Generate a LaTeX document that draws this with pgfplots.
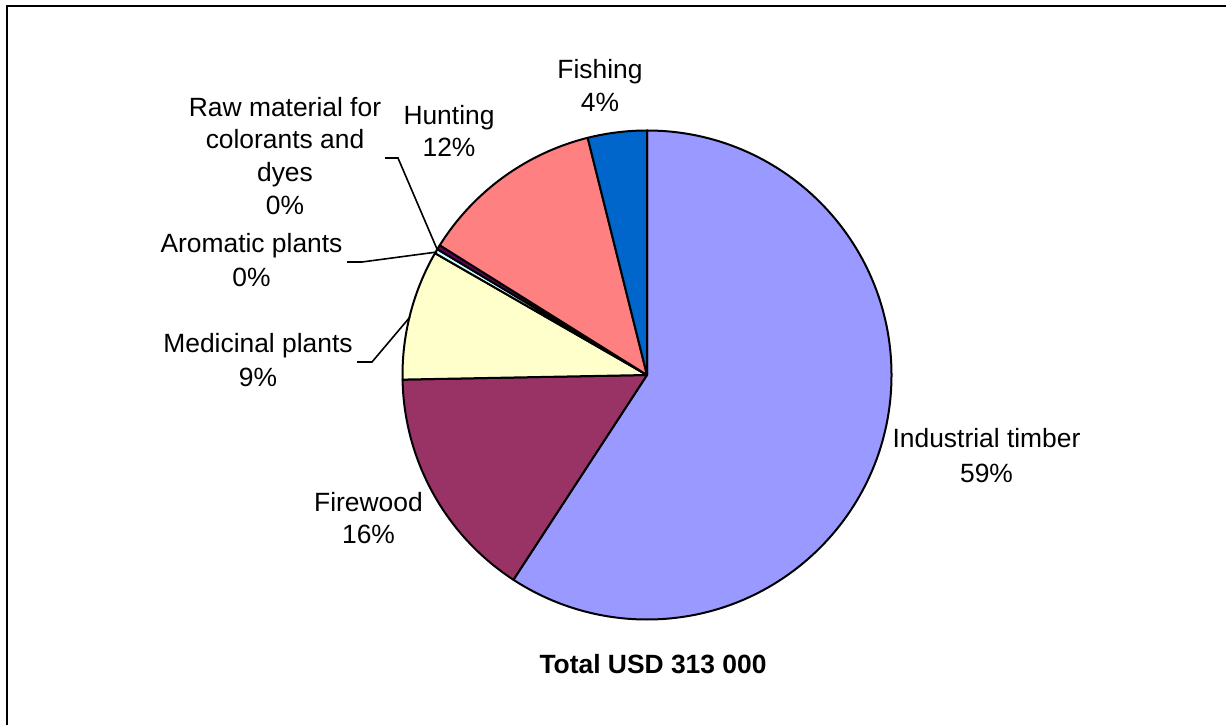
\documentclass[border=0pt]{standalone}
\usepackage{pgfplots}
\usepackage{pgfplotstable}
\pgfplotsset{compat=1.18}
\usepackage{fontspec}
\setmainfont{Liberation Sans}

\definecolor{timber}{HTML}{9999FF}
\definecolor{firewood}{HTML}{993366}
\definecolor{medicinal}{HTML}{FFFFCC}
\definecolor{aromatic}{HTML}{CCFFFF}
\definecolor{rawmat}{HTML}{660066}
\definecolor{hunting}{HTML}{FF8080}
\definecolor{fishing}{HTML}{0066CC}

% share of total value (%), clockwise from 12 o'clock
\pgfplotstableread{
name       value  col
timber     59.2   timber
firewood   15.5   firewood
medicinal   8.6   medicinal
aromatic    0.3   aromatic
rawmat      0.3   rawmat
hunting    12.2   hunting
fishing     3.9   fishing
}\piedata

% label at a baseline, coordinates in pixels of the 1226x724 frame
\newcommand{\lbl}[3]{\node[anchor=base] at (axis cs:#1,#2) {#3};}

\begin{document}
\begin{tikzpicture}[font=\fontsize{13.2}{16}\selectfont]
\begin{axis}[
  width=613pt, height=362pt,
  scale only axis,
  xmin=0, xmax=1226, ymin=0, ymax=724,
  hide axis,
  clip=false,
]
\pgfplotsextra{
  \xdef\curang{90}
  \pgfplotstableforeachcolumnelement{value}\of\piedata\as\v{%
    \pgfplotstablegetelem{\pgfplotstablerow}{col}\of\piedata
    \edef\slicecol{\pgfplotsretval}%
    \pgfmathsetmacro\endang{\curang-3.6*\v}%
    \filldraw[fill=\slicecol, draw=black, line width=1pt, line join=round]
      (axis cs:647,349) -- ++(\curang:122.25pt)
      arc[start angle=\curang, end angle=\endang, radius=122.25pt] -- cycle;
    \xdef\curang{\endang}%
  }
  % frame (right and bottom edges fall outside the picture)
  \draw[line width=1.2pt] (axis cs:6.8,-10) -- (axis cs:6.8,718.2) -- (axis cs:1232,718.2);
}
% leader lines
\draw[line width=0.8pt] (axis cs:385,566) -- (axis cs:398,566) -- (axis cs:437,475);
\draw[line width=0.8pt] (axis cs:347,462) -- (axis cs:362,462) -- (axis cs:437,472);
\draw[line width=0.8pt] (axis cs:357,362) -- (axis cs:372,362) -- (axis cs:410,407);

\lbl{600}{645}{Fishing}
\lbl{600}{612}{4\%}
\lbl{449}{599}{Hunting}
\lbl{449}{567}{12\%}
\lbl{285}{607}{Raw material for}
\lbl{285}{575}{colorants and}
\lbl{285}{542}{dyes}
\lbl{285}{509}{0\%}
\lbl{251.5}{471}{Aromatic plants}
\lbl{251.5}{437}{0\%}
\lbl{258}{371}{Medicinal plants}
\lbl{258}{337}{9\%}
\lbl{368.5}{213}{Firewood}
\lbl{368.5}{181}{16\%}
\lbl{986.5}{276}{Industrial timber}
\lbl{986.5}{242}{59\%}
\node[anchor=base, font=\fontsize{13.2}{16}\selectfont\bfseries] at (axis cs:653,51) {Total USD 313 000};
\end{axis}
\pgfresetboundingbox
\useasboundingbox (current axis.south west) rectangle (current axis.north east);
\end{tikzpicture}
\end{document}
